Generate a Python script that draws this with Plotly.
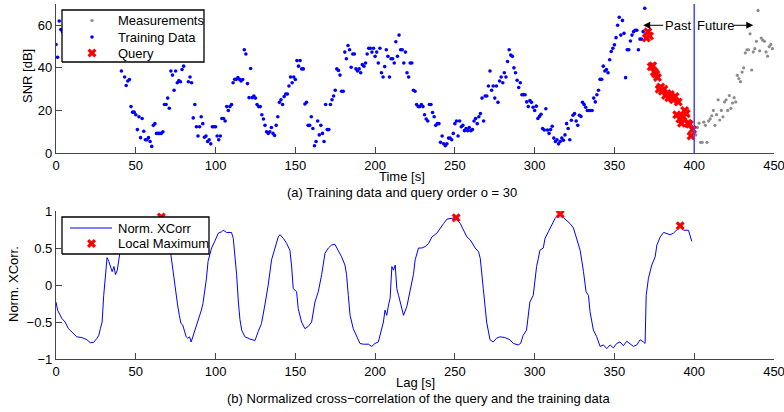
import plotly.graph_objects as go

# ---------------- data ----------------
train_snr = [
    51, 45, 62, 58, 57, 60, 55, 62, 58, 63,
    60, 64, 59, 61, 57, 62, 58, 55, 60, 56,
    58, 53, 57, 54, 50, 55, 52, 49, 53, 48,
    51, 47, 50, 46, 48, 45, 47, 44.5, 46, 44,
    45, 38.5, 44, 35.7, 31.7, 33.8, 34.5, 21.8, 19.2, 19.2,
    18, 11, 17, 7.2, 16.2, 10.2, 6.2, 6.2, 7.2, 5.4,
    3.1, 13, 13.8, 9.2, 9.2, 9.2, 9.2, 10, 22.8, 22.8,
    25.8, 21, 38.5, 36.6, 29.5, 38.5, 33, 34, 33.5, 39.2,
    40.8, 45, 44, 33.5, 35.7, 33, 16.5, 22.8, 12.3, 8,
    12.3, 17, 13.8, 7.4, 8, 5.4, 6.2, 4.3, 12.3, 12.3,
    12.3, 8, 6.2, 8, 16.2, 16.2, 15, 21.8, 20, 21.8,
    22.8, 33, 34.6, 34.6, 35.4, 34.6, 33.8, 34.5, 48.5, 46.5,
    32.6, 26, 39.7, 26, 26.8, 25.8, 22.8, 21.8, 21.8, 18,
    16, 13, 10, 9.2, 10, 12, 9.2, 8.2, 13, 17,
    23.8, 25, 22.8, 26.5, 27.7, 27.7, 31.5, 35.7, 33, 35.7,
    34.5, 43.4, 40.8, 43.4, 39.5, 39.5, 23, 23.8, 13, 13,
    17, 11.5, 3.4, 5.4, 15, 8.5, 13, 9.2, 5.4, 22.8,
    11, 11, 22.8, 25, 26.8, 29.5, 39.5, 38.8, 36.6, 29,
    29, 47.4, 44.3, 50.5, 48.5, 40.3, 46.5, 46.5, 39.5, 38.5,
    39.5, 37.7, 41.5, 40.8, 42.3, 46.5, 49.2, 49.2, 47.4, 49.2,
    45.4, 47.4, 42.3, 49.2, 37.7, 35.7, 40.6, 48.5, 45.4, 35.7,
    44.3, 44.3, 42.3, 52.3, 45.4, 55.4, 48.5, 48.5, 42.3, 47.4,
    37.7, 35.7, 42.3, 42.3, 29.5, 29, 22.8, 21.8, 21.8, 22.8,
    21.8, 18, 16, 15, 22.8, 22.8, 19, 17, 13, 13.8,
    13.8, 5, 8, 4.3, 3.4, 4.3, 7, 7, 6.2, 9.2,
    13.8, 15, 8, 15, 12.3, 13, 10.5, 11.5, 10.5, 12,
    10.5, 11, 15, 16.2, 13.8, 17, 18.5, 25.8, 15, 26.8,
    26.8, 31.5, 38.5, 29.5, 31.5, 25.8, 31.5, 23.8, 33.8, 35.7,
    33, 37.7, 35.7, 43, 48.5, 46, 45.4, 40, 37.7, 34.2,
    30.8, 33, 27.4, 27.4, 27.4, 24, 21.8, 24.6, 23.8, 21.5,
    20, 22, 16.2, 17.2, 18.2, 11.5, 10.8, 20.8, 10.8, 9.2,
    11, 12.6, 7, 5.4, 6.2, 4.3, 5.4, 7, 6, 8.5,
    13.8, 11.5, 6.2, 15.4, 17.7, 18.5, 15, 13, 17.7, 17.2,
    23.8, 22.8, 21.5, 20, 20, 20, 20, 25.8, 24, 27.4,
    29.5, 34.6, 34.6, 40.8, 38.5, 39.2, 37.7, 43.8, 47.7, 49.2,
    50.8, 54.2, 60, 63.8, 55.4, 62.3, 56.2, 35.4, 48.5, 48.5,
    52.6, 55.4, 57, 57.7, 57.7, 48.5, 53.5, 53.5, 57, 68,
]
query_snr = [
    54, 57, 55, 40.5, 41, 38, 37, 35.5, 30, 31,
    29, 30, 27, 28, 26, 27.5, 26, 25, 26.5, 18,
    24, 16, 14, 17, 20, 18.5, 14, 13.5, 8, 11,
]
meas_snr = [
    10, 8.5, 12, 14, 5, 5, 14.5, 13, 5, 15,
    16, 17.5, 20, 13, 18, 25, 15.5, 20, 17, 24,
    25, 20, 27, 21, 23.5, 26, 24, 36.5, 35, 33.5,
    38, 40, 47, 48.5, 48.5, 56, 39, 47.5, 49, 52.5,
    67, 48, 54, 53, 52.5, 47.5, 45.5, 50, 51, 49,
]
t_train = list(range(0, 370))
t_query = list(range(370, 400))
t_meas = list(range(400, 450))

xcorr_lag = [
    0, 1, 3.6, 5.7, 7.8, 9.9, 13, 16.2, 19.4, 21.5, 23.6, 25.7, 26.8, 27.8, 28.9,
    29.9, 31, 32, 33.1, 34.2, 35.2, 36.3, 37.3, 38.4, 39.5, 40.5,
    43, 46, 50, 55, 60, 64, 66, 68, 70,
    72, 73, 74.1, 75.2, 76.2, 77.3, 78.3, 79.4, 80.5, 81.6, 82.6, 83.7, 84.7,
    85.8, 86.8, 87.9, 89, 90, 91.1, 92.1, 93.2, 94.3, 95.3, 96.4, 97.5, 99.5,
    101.7, 103.8, 104.8, 106.9, 110, 111.1, 112.2, 113.2, 114.3, 115.3,
    116.4, 118.4, 121.5, 124.7, 126.7, 128.8, 130.9, 133, 135.1, 137.2, 139.3,
    140.4, 142.5, 144.6, 146.6, 147.6, 148.7, 150.8, 151.8, 153.9, 156, 158.1,
    160.2, 162.3, 164.4, 166.5, 168.6, 170.7, 172.7, 174.8, 176.9, 179, 181.1,
    182.1, 183.2, 184.3, 186.3, 188.4, 190.5, 192.6, 195.8, 197.9, 199.9, 202,
    203.1, 204.1, 205.2, 206.2, 207.3, 208.4, 209.4, 210.5, 211.5, 212.6, 213.6,
    214.7, 215.7, 217.8, 219.9, 222, 224, 225.1, 227.2, 229.3, 231.4, 233.5,
    235.6, 238.7, 240.8, 242.9, 245, 248.2, 250.3, 253.4, 255.4, 257.5, 259.6,
    262.7, 264.8, 265.9, 267.8, 269.9, 272, 274, 276.1, 278.2, 281.3, 284.5,
    286.6, 289.7, 291.2, 292.8, 294.9, 297, 299.1, 300.2, 301.2, 302.3, 303.3,
    305.4, 306.5, 308.6, 310.7, 312.8, 314.9, 315.9, 318, 320.5, 322.2, 324.3,
    326.4, 328.5, 330.6, 332.2, 333.7, 334.7, 336.8, 338.9, 341, 343.1, 345.2,
    347.3, 349.3, 351.4, 353.5, 355.6, 357.7, 359.8, 361.9, 364, 366.1, 368.2,
    369.2, 369.9, 371.3, 373.4, 375.5, 376.6, 378.7, 380.8, 382.8, 384.9, 387,
    389.1, 391.2, 393.3, 396.4, 398.5,
]
xcorr_val = [
    -0.23, -0.34, -0.45, -0.5, -0.59, -0.64, -0.7, -0.71, -0.74, -0.78, -0.775,
    -0.72, -0.68, -0.59, -0.5, -0.14, 0.11, 0.37, 0.32, 0.23, 0.18, 0.25, 0.14,
    0.2, 0.36, 0.5,
    0.58, 0.65, 0.72, 0.78, 0.85, 0.9, 0.92, 0.88, 0.72,
    0.41, 0.23, 0.09, -0.09, -0.27, -0.41, -0.52, -0.54, -0.63, -0.7, -0.72,
    -0.7, -0.77, -0.7, -0.61, -0.56, -0.5, -0.41, -0.34, -0.25, -0.09, 0.09,
    0.32, 0.41, 0.5, 0.59, 0.7, 0.72, 0.74, 0.71, 0.71, 0.63, 0.41, 0.14,
    -0.23, -0.47,
    -0.61, -0.7, -0.73, -0.75, -0.63, -0.52, -0.27, 0.0, 0.34, 0.5, 0.65,
    0.68, 0.63, 0.56, 0.47, 0.27, -0.05, -0.09, -0.32, -0.5, -0.59, -0.56,
    -0.5, -0.23, -0.09, 0.14, 0.43, 0.5, 0.54, 0.55, 0.47, 0.38, 0.27,
    0.14, -0.14, -0.41, -0.59, -0.7, -0.79, -0.8, -0.8, -0.83, -0.79, -0.77,
    -0.68, -0.61, -0.5, -0.34, -0.41, -0.27, -0.18, 0.25, 0.2, 0.27, -0.05,
    -0.14, -0.23, -0.41, -0.29, -0.05, 0.14, 0.34, 0.5, 0.5, 0.52, 0.56,
    0.65, 0.7, 0.77, 0.83, 0.89, 0.9, 0.91, 0.83, 0.74, 0.65, 0.61,
    0.5, 0.45, 0.36, -0.05, -0.5, -0.74, -0.77, -0.72, -0.7, -0.71, -0.74,
    -0.79, -0.81, -0.79, -0.68, -0.61, -0.23, -0.14, 0.09, 0.25, 0.36, 0.47,
    0.5, 0.63, 0.72, 0.81, 0.9, 0.95, 0.96, 0.91, 0.86, 0.83, 0.77,
    0.63, 0.47, 0.18, -0.09, -0.14, -0.36, -0.61, -0.7, -0.83, -0.81, -0.86,
    -0.81, -0.85, -0.79, -0.77, -0.82, -0.76, -0.79, -0.83, -0.81, -0.74, -0.77,
    -0.79, -0.14, 0.09, 0.27, 0.38, 0.54, 0.65, 0.71, 0.7, 0.68, 0.7,
    0.74, 0.79, 0.74, 0.74, 0.59,
]
max_lag = [66, 250.8, 316, 391.2]
max_val = [0.92, 0.91, 0.96, 0.8]

x_ticks = [0, 50, 100, 150, 200, 250, 300, 350, 400, 450]
snr_ticks = [0, 20, 40, 60]
corr_ticks = [-1, -0.5, 0, 0.5, 1]

top_legend = ["Measurements", "Training Data", "Query"]
bottom_legend = ["Norm. XCorr", "Local Maximum"]

# ---------------- layout geometry (pixels) ----------------
W, H = 784, 412
X0, X1 = 56, 774           # plot left/right
TOP_Y0, TOP_Y1 = 4, 153    # top axes: top / bottom pixel rows
BOT_Y0, BOT_Y1 = 211, 359  # bottom axes
T_RANGE = [0, 450]
SNR_RANGE = [0, 70]
CORR_RANGE = [-1, 1]

FONT = "Liberation Sans, Arial, Helvetica, sans-serif"
AXC = "#454545"
BLUE = "#0000ff"
RED = "#ff0000"
GREY = "#8c8c8c"


def px_x(p):
    return p / W


def px_y(p):
    return 1 - p / H


def to_t(px):
    return T_RANGE[0] + (px - X0) / (X1 - X0) * (T_RANGE[1] - T_RANGE[0])


def to_snr(py):
    return SNR_RANGE[0] + (TOP_Y1 - py) / (TOP_Y1 - TOP_Y0) * (SNR_RANGE[1] - SNR_RANGE[0])


def to_corr(py):
    return CORR_RANGE[0] + (BOT_Y1 - py) / (BOT_Y1 - BOT_Y0) * (CORR_RANGE[1] - CORR_RANGE[0])


fig = go.Figure()

# data traces
fig.add_trace(go.Scatter(x=t_meas, y=meas_snr, mode="markers", name=top_legend[0],
                         marker=dict(color=GREY, size=3.2), xaxis="x", yaxis="y"))
fig.add_trace(go.Scatter(x=t_train, y=train_snr, mode="markers", name=top_legend[1],
                         marker=dict(color=BLUE, size=3.6), xaxis="x", yaxis="y"))
fig.add_trace(go.Scatter(x=t_query, y=query_snr, mode="markers", name=top_legend[2],
                         marker=dict(color=RED, size=8, symbol="x"), xaxis="x", yaxis="y"))
fig.add_trace(go.Scatter(x=xcorr_lag, y=xcorr_val, mode="lines", name=bottom_legend[0],
                         line=dict(color=BLUE, width=1), xaxis="x2", yaxis="y2"))
fig.add_trace(go.Scatter(x=max_lag, y=max_val, mode="markers", name=bottom_legend[1],
                         marker=dict(color=RED, size=8, symbol="x"), xaxis="x2", yaxis="y2"))

# ---- legend boxes drawn as traces so they sit above the data ----
def box(xa, ya, x0, x1, y0, y1):
    fig.add_trace(go.Scatter(x=[x0, x1, x1, x0, x0], y=[y0, y0, y1, y1, y0],
                             mode="lines", fill="toself", fillcolor="white",
                             line=dict(color="black", width=1.3),
                             xaxis=xa, yaxis=ya, hoverinfo="skip"))

ann = []

def legend_text(text, xa, ya, x, y):
    ann.append(dict(text=text, x=x, y=y, xref=xa, yref=ya, xanchor="left",
                    yanchor="middle", showarrow=False,
                    font=dict(family=FONT, size=13, color="black")))

# top legend
box("x", "y", to_t(62), to_t(204), to_snr(62), to_snr(10))
rows_top = [20.5, 37, 53]
fig.add_trace(go.Scatter(x=[to_t(92)], y=[to_snr(rows_top[0])], mode="markers",
                         marker=dict(color=GREY, size=3.2), xaxis="x", yaxis="y"))
fig.add_trace(go.Scatter(x=[to_t(92)], y=[to_snr(rows_top[1])], mode="markers",
                         marker=dict(color=BLUE, size=3.6), xaxis="x", yaxis="y"))
fig.add_trace(go.Scatter(x=[to_t(92)], y=[to_snr(rows_top[2])], mode="markers",
                         marker=dict(color=RED, size=8, symbol="x"), xaxis="x", yaxis="y"))
for name, r in zip(top_legend, rows_top):
    legend_text(name, "x", "y", to_t(116), to_snr(r))

# bottom legend
box("x2", "y2", to_t(62), to_t(209), to_corr(254), to_corr(217))
rows_bot = [228, 243.5]
fig.add_trace(go.Scatter(x=[to_t(70), to_t(112)], y=[to_corr(rows_bot[0])] * 2,
                         mode="lines", line=dict(color=BLUE, width=1),
                         xaxis="x2", yaxis="y2"))
fig.add_trace(go.Scatter(x=[to_t(91.5)], y=[to_corr(rows_bot[1])], mode="markers",
                         marker=dict(color=RED, size=8, symbol="x"), xaxis="x2", yaxis="y2"))
for name, r in zip(bottom_legend, rows_bot):
    legend_text(name, "x2", "y2", to_t(116), to_corr(r))

xdom = [px_x(X0), px_x(X1)]
axis_common = dict(showline=True, linecolor=AXC, linewidth=1.3, ticks="inside",
                   ticklen=6, tickcolor=AXC, tickwidth=1, showgrid=False,
                   zeroline=False, automargin=False, mirror=False,
                   ticklabeloverflow="allow",
                   tickfont=dict(family=FONT, size=13, color="black"))

fig.update_layout(
    template="none",
    width=W, height=H,
    margin=dict(l=0, r=0, t=0, b=0, pad=0),
    paper_bgcolor="white", plot_bgcolor="white",
    font=dict(family=FONT, size=13, color="black"),
    showlegend=False,
    xaxis=dict(domain=xdom, range=T_RANGE, tickvals=x_ticks, anchor="y", **axis_common),
    yaxis=dict(domain=[px_y(TOP_Y1), px_y(TOP_Y0)], range=SNR_RANGE, tickvals=snr_ticks,
               anchor="x", **axis_common),
    xaxis2=dict(domain=xdom, range=T_RANGE, tickvals=x_ticks, anchor="y2", **axis_common),
    yaxis2=dict(domain=[px_y(BOT_Y1), px_y(BOT_Y0)], range=CORR_RANGE, tickvals=corr_ticks,
                anchor="x2", **axis_common),
)

# boundary between past and future
fig.add_shape(type="line", x0=400, x1=400, y0=SNR_RANGE[0], y1=SNR_RANGE[1],
              xref="x", yref="y", line=dict(color="rgb(70,70,255)", width=1.5))


def label(text, x, y, angle=0, size=13):
    ann.append(dict(text=text, x=x, y=y, xref="paper", yref="paper",
                    xanchor="center", yanchor="middle", showarrow=False,
                    textangle=angle, font=dict(family=FONT, size=size, color="black")))

label("SNR [dB]", px_x(27), px_y(76), angle=-90)
label("Time [s]", px_x(402), px_y(177))
label("(a) Training data and query order o = 30", px_x(402), px_y(192))
label("Norm. XCorr.", px_x(13), px_y(284), angle=-90)
label("Lag [s]", px_x(415), px_y(382))
label("(b) Normalized cross\u2212correlation of the query and the training data",
      px_x(418), px_y(398))

ann.append(dict(text="Past", x=399.5, y=60, xref="x", yref="y", xanchor="right",
                yanchor="middle", showarrow=False, font=dict(family=FONT, size=13)))
ann.append(dict(text="Future", x=400.5, y=60, xref="x", yref="y", xanchor="left",
                yanchor="middle", showarrow=False, font=dict(family=FONT, size=13)))
ann.append(dict(text="", x=368, y=60, ax=381.5, ay=60, xref="x", yref="y",
                axref="x", ayref="y", showarrow=True, arrowhead=2, arrowsize=1.4,
                arrowwidth=1, arrowcolor="black"))
ann.append(dict(text="", x=437, y=60, ax=424, ay=60, xref="x", yref="y",
                axref="x", ayref="y", showarrow=True, arrowhead=2, arrowsize=1.4,
                arrowwidth=1, arrowcolor="black"))
fig.update_layout(annotations=ann)

fig.write_html("out.html",
               config={"displayModeBar": False},
               post_script="document.body.style.margin='0px';"
                           "document.body.style.overflow='hidden';")
